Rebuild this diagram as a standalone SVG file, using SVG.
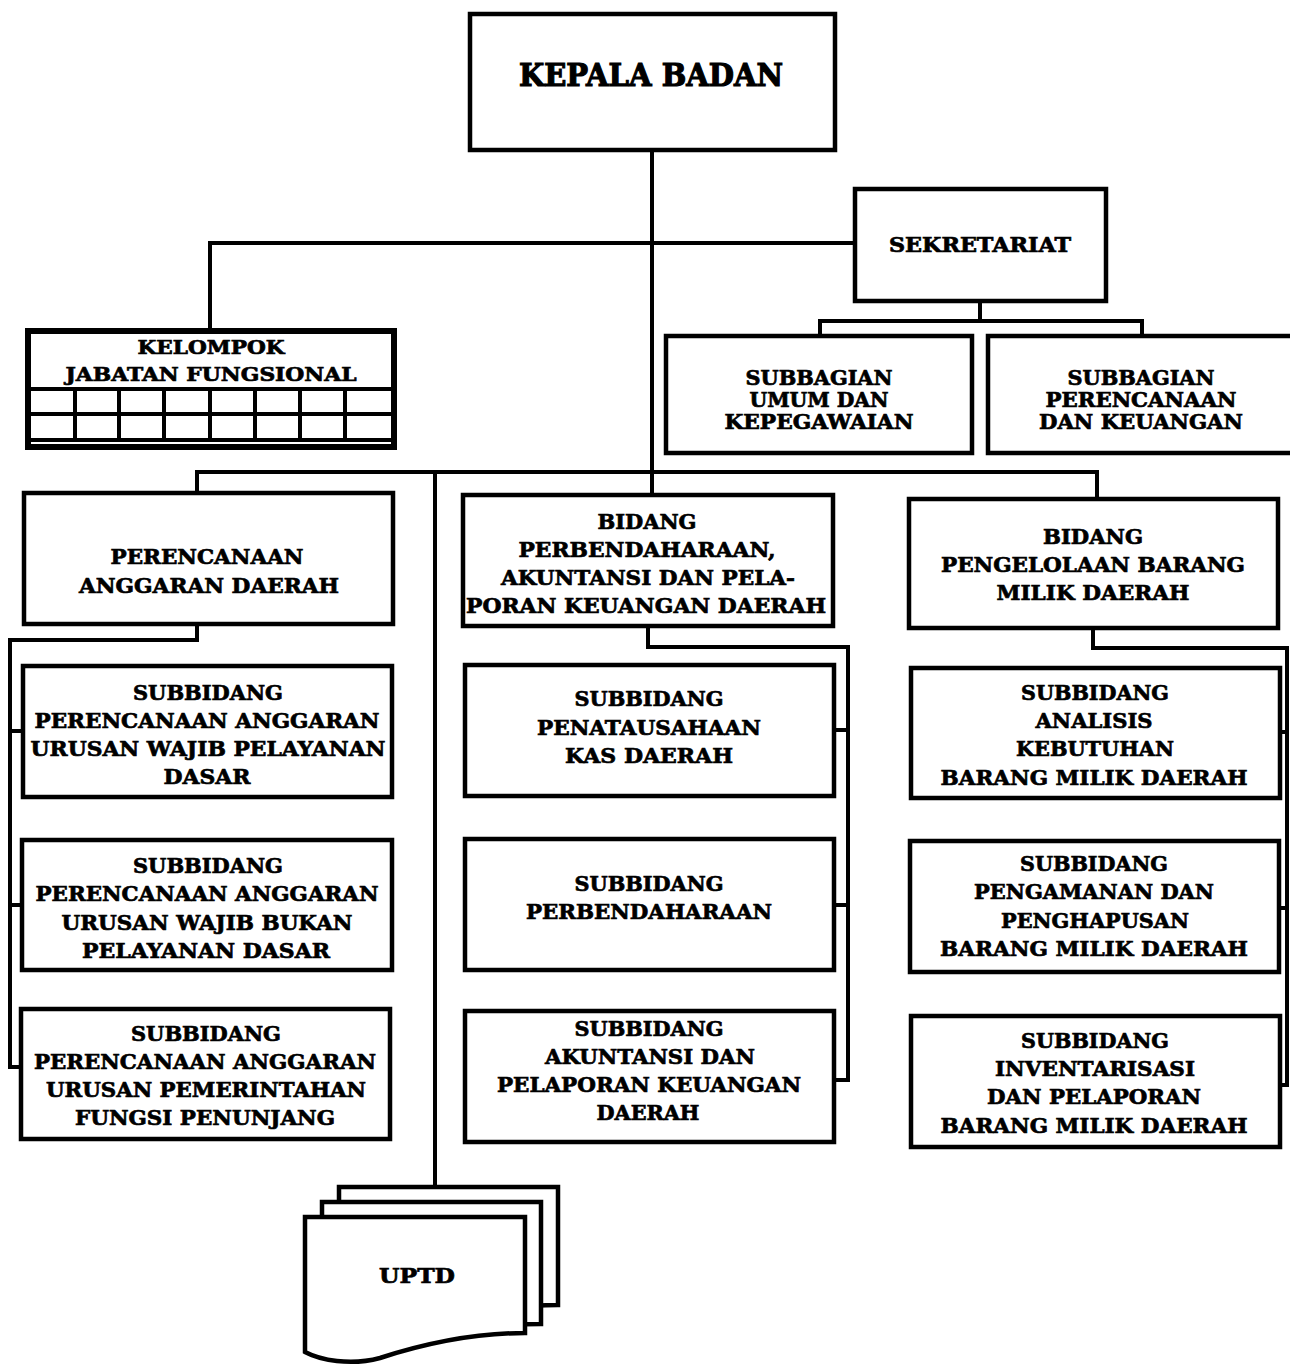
<svg xmlns="http://www.w3.org/2000/svg" width="1290" height="1365" viewBox="0 0 1290 1365">
<style>
.box{fill:#fff;stroke:#000;stroke-width:4.5}
.c{fill:none;stroke:#000;stroke-width:4}
text{font-family:"DejaVu Serif","Liberation Serif",serif;font-weight:bold;fill:#000;stroke:#000;stroke-width:0.7px;text-anchor:middle;font-size:21px}
.big{font-size:31px;stroke-width:1.2px}
.s19{font-size:19px}
.s20{font-size:20px}
</style>
<rect width="1290" height="1365" fill="#fff"/>
<g id="connectors">
<path class="c" d="M652,150 V472"/>
<path class="c" d="M855,243 H210 V330"/>
<path class="c" d="M980,301 V321 M820,336 V321 H1142 V336"/>
<path class="c" d="M197,493 V472 H1097 V499 M652,472 V495"/>
<path class="c" d="M435,472 V1187"/>
<path class="c" d="M197,624 V640 H10 V1067 H21 M10,731 H23 M10,905 H23"/>
<path class="c" d="M648,626 V647 H848 V1080 H834 M834,730 H848 M834,905 H848"/>
<path class="c" d="M1093,628 V648 H1287 V1085 H1280 M1280,732 H1287 M1280,908 H1287"/>
</g>
<g id="kepala">
<rect class="box" x="470" y="14" width="365" height="136"/>
<text class="big" x="651" y="86" textLength="264" lengthAdjust="spacingAndGlyphs">KEPALA BADAN</text>
</g>
<g id="sekretariat">
<rect class="box" x="855" y="189" width="251" height="112"/>
<text class="s20" x="980" y="252" textLength="182" lengthAdjust="spacingAndGlyphs">SEKRETARIAT</text>
</g>
<g id="kelompok">
<rect x="28" y="331" width="366" height="116" fill="#fff" stroke="#000" stroke-width="6"/>
<path class="c" d="M28,389 H394 M28,414 H394 M28,440 H394 M75,389 V440 M119,389 V440 M164,389 V440 M210,389 V440 M255,389 V440 M300,389 V440 M345,389 V440"/>
<text class="s19" x="211" y="354" textLength="147" lengthAdjust="spacingAndGlyphs">KELOMPOK</text>
<text class="s19" x="211" y="381" textLength="291" lengthAdjust="spacingAndGlyphs">JABATAN FUNGSIONAL</text>
</g>
<g id="subbagian-umum">
<rect class="box" x="666" y="336" width="306" height="117"/>
<text class="s20" x="819" y="385" textLength="147" lengthAdjust="spacingAndGlyphs">SUBBAGIAN</text>
<text class="s20" x="819" y="407" textLength="139" lengthAdjust="spacingAndGlyphs">UMUM DAN</text>
<text class="s20" x="819" y="429" textLength="189" lengthAdjust="spacingAndGlyphs">KEPEGAWAIAN</text>
</g>
<g id="subbagian-perencanaan">
<rect class="box" x="988" y="336" width="310" height="117"/>
<text class="s20" x="1141" y="385" textLength="147" lengthAdjust="spacingAndGlyphs">SUBBAGIAN</text>
<text class="s20" x="1141" y="407" textLength="191" lengthAdjust="spacingAndGlyphs">PERENCANAAN</text>
<text class="s20" x="1141" y="429" textLength="204" lengthAdjust="spacingAndGlyphs">DAN KEUANGAN</text>
</g>
<g id="bidang-anggaran">
<rect class="box" x="24" y="493" width="369" height="131"/>
<text x="207" y="564" textLength="193" lengthAdjust="spacingAndGlyphs">PERENCANAAN</text>
<text x="209" y="593" textLength="260" lengthAdjust="spacingAndGlyphs">ANGGARAN DAERAH</text>
</g>
<g id="bidang-perbendaharaan">
<rect class="box" x="463" y="495" width="370" height="131"/>
<text x="647" y="529" textLength="99" lengthAdjust="spacingAndGlyphs">BIDANG</text>
<text x="647" y="557" textLength="257" lengthAdjust="spacingAndGlyphs">PERBENDAHARAAN,</text>
<text x="648" y="585" textLength="294" lengthAdjust="spacingAndGlyphs">AKUNTANSI DAN PELA-</text>
<text x="646" y="613" textLength="360" lengthAdjust="spacingAndGlyphs">PORAN KEUANGAN DAERAH</text>
</g>
<g id="bidang-barang">
<rect class="box" x="909" y="499" width="369" height="129"/>
<text x="1093" y="544" textLength="100" lengthAdjust="spacingAndGlyphs">BIDANG</text>
<text x="1093" y="572" textLength="304" lengthAdjust="spacingAndGlyphs">PENGELOLAAN BARANG</text>
<text x="1093" y="600" textLength="193" lengthAdjust="spacingAndGlyphs">MILIK DAERAH</text>
</g>
<g id="sub-l1">
<rect class="box" x="23" y="666" width="369" height="131"/>
<text x="208" y="700" textLength="150" lengthAdjust="spacingAndGlyphs">SUBBIDANG</text>
<text x="207" y="728" textLength="345" lengthAdjust="spacingAndGlyphs">PERENCANAAN ANGGARAN</text>
<text x="208" y="756" textLength="355" lengthAdjust="spacingAndGlyphs">URUSAN WAJIB PELAYANAN</text>
<text x="207" y="784" textLength="87" lengthAdjust="spacingAndGlyphs">DASAR</text>
</g>
<g id="sub-l2">
<rect class="box" x="22" y="840" width="370" height="130"/>
<text x="208" y="873" textLength="150" lengthAdjust="spacingAndGlyphs">SUBBIDANG</text>
<text x="207" y="901" textLength="343" lengthAdjust="spacingAndGlyphs">PERENCANAAN ANGGARAN</text>
<text x="207" y="930" textLength="291" lengthAdjust="spacingAndGlyphs">URUSAN WAJIB BUKAN</text>
<text x="206" y="958" textLength="248" lengthAdjust="spacingAndGlyphs">PELAYANAN DASAR</text>
</g>
<g id="sub-l3">
<rect class="box" x="21" y="1009" width="369" height="130"/>
<text x="206" y="1041" textLength="150" lengthAdjust="spacingAndGlyphs">SUBBIDANG</text>
<text x="205" y="1069" textLength="342" lengthAdjust="spacingAndGlyphs">PERENCANAAN ANGGARAN</text>
<text x="206" y="1097" textLength="320" lengthAdjust="spacingAndGlyphs">URUSAN PEMERINTAHAN</text>
<text x="205" y="1125" textLength="260" lengthAdjust="spacingAndGlyphs">FUNGSI PENUNJANG</text>
</g>
<g id="sub-m1">
<rect class="box" x="465" y="665" width="369" height="131"/>
<text x="649" y="706" textLength="149" lengthAdjust="spacingAndGlyphs">SUBBIDANG</text>
<text x="649" y="735" textLength="224" lengthAdjust="spacingAndGlyphs">PENATAUSAHAAN</text>
<text x="649" y="763" textLength="168" lengthAdjust="spacingAndGlyphs">KAS DAERAH</text>
</g>
<g id="sub-m2">
<rect class="box" x="465" y="839" width="369" height="131"/>
<text x="649" y="891" textLength="149" lengthAdjust="spacingAndGlyphs">SUBBIDANG</text>
<text x="649" y="919" textLength="246" lengthAdjust="spacingAndGlyphs">PERBENDAHARAAN</text>
</g>
<g id="sub-m3">
<rect class="box" x="465" y="1011" width="369" height="131"/>
<text x="649" y="1036" textLength="149" lengthAdjust="spacingAndGlyphs">SUBBIDANG</text>
<text x="650" y="1064" textLength="210" lengthAdjust="spacingAndGlyphs">AKUNTANSI DAN</text>
<text x="649" y="1092" textLength="304" lengthAdjust="spacingAndGlyphs">PELAPORAN KEUANGAN</text>
<text x="648" y="1120" textLength="103" lengthAdjust="spacingAndGlyphs">DAERAH</text>
</g>
<g id="sub-r1">
<rect class="box" x="911" y="668" width="369" height="130"/>
<text x="1095" y="700" textLength="148" lengthAdjust="spacingAndGlyphs">SUBBIDANG</text>
<text x="1094" y="728" textLength="117" lengthAdjust="spacingAndGlyphs">ANALISIS</text>
<text x="1095" y="756" textLength="158" lengthAdjust="spacingAndGlyphs">KEBUTUHAN</text>
<text x="1094" y="785" textLength="307" lengthAdjust="spacingAndGlyphs">BARANG MILIK DAERAH</text>
</g>
<g id="sub-r2">
<rect class="box" x="910" y="841" width="369" height="131"/>
<text x="1094" y="871" textLength="148" lengthAdjust="spacingAndGlyphs">SUBBIDANG</text>
<text x="1094" y="899" textLength="240" lengthAdjust="spacingAndGlyphs">PENGAMANAN DAN</text>
<text x="1095" y="928" textLength="188" lengthAdjust="spacingAndGlyphs">PENGHAPUSAN</text>
<text x="1094" y="956" textLength="308" lengthAdjust="spacingAndGlyphs">BARANG MILIK DAERAH</text>
</g>
<g id="sub-r3">
<rect class="box" x="911" y="1016" width="369" height="131"/>
<text x="1095" y="1048" textLength="148" lengthAdjust="spacingAndGlyphs">SUBBIDANG</text>
<text x="1095" y="1076" textLength="200" lengthAdjust="spacingAndGlyphs">INVENTARISASI</text>
<text x="1094" y="1104" textLength="214" lengthAdjust="spacingAndGlyphs">DAN PELAPORAN</text>
<text x="1094" y="1133" textLength="307" lengthAdjust="spacingAndGlyphs">BARANG MILIK DAERAH</text>
</g>
<g id="uptd">
<path class="box" d="M339,1187 h219 v118 c-55,0 -105,12 -145,25 c-30,8 -60,2 -74,-6 z"/>
<path class="box" d="M322,1202 h219 v122 c-55,0 -105,12 -145,25 c-30,8 -60,2 -74,-6 z"/>
<path class="box" d="M305,1217 h220 v116 c-55,0 -105,12 -145,25 c-30,8 -60,2 -75,-6 z"/>
<text x="417" y="1283" textLength="76" lengthAdjust="spacingAndGlyphs">UPTD</text>
</g>
</svg>
